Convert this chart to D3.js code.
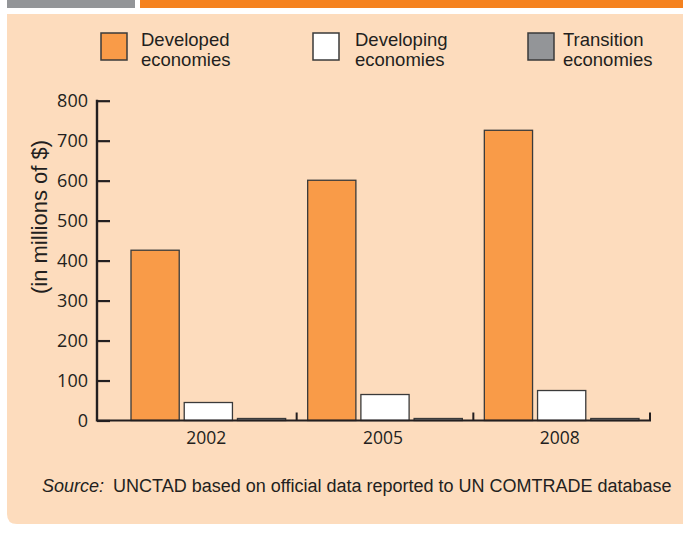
<!DOCTYPE html>
<html>
<head>
<meta charset="utf-8">
<script src="https://cdn.jsdelivr.net/npm/d3@7"></script>
<style>
  html, body { margin: 0; padding: 0; background: #ffffff; }
  svg { display: block; }
</style>
</head>
<body>
<script>
// ---- Data ----
const years = ["2002", "2005", "2008"];
const seriesNames = ["Developed economies", "Developing economies", "Transition economies"];
const developed = [426, 601, 726];
const developing = [45, 65, 75];
const transition = [5, 5, 5];
const yTicks = [0, 100, 200, 300, 400, 500, 600, 700, 800];
const legendLines = [["Developed", "economies"], ["Developing", "economies"], ["Transition", "economies"]];
const yTitle = "(in millions of $)";
const sourceLabel = "Source:";
const sourceText = "UNCTAD based on official data reported to UN COMTRADE database";

const seriesValues = [developed, developing, transition];
const colors = ["#F99B48", "#FFFFFF", "#939598"];

const W = 683, H = 533;
const svg = d3.select("body").append("svg").attr("width", W).attr("height", H);

// header strips
svg.append("rect").attr("x", 7).attr("y", 0).attr("width", 128).attr("height", 8).attr("fill", "#939598");
svg.append("rect").attr("x", 140).attr("y", 0).attr("width", 543).attr("height", 8).attr("fill", "#F5821F");

// panel with rounded bottom-left corner
const px0 = 7, py0 = 14, px1 = 683, py1 = 524, r = 10;
svg.append("path")
  .attr("d", `M${px0},${py0} H${px1} V${py1} H${px0 + r} Q${px0},${py1} ${px0},${py1 - r} Z`)
  .attr("fill", "#FDDCBD");

const ink = "#231F20";

// scales
const y = d3.scaleLinear().domain([0, 800]).range([420.5, 100.7]);
const x = d3.scaleBand().domain(years).range([120, 650]).paddingInner(0).paddingOuter(0);
const xs = d3.scaleBand().domain(d3.range(seriesNames.length))
  .range([11, x.bandwidth() - 11]).paddingInner(0.094).paddingOuter(0);

// bars
const g = svg.append("g");
years.forEach((yr, i) => {
  seriesValues.forEach((vals, s) => {
    g.append("rect")
      .attr("x", x(yr) + xs(s))
      .attr("y", y(vals[i]))
      .attr("width", xs.bandwidth())
      .attr("height", y(0) - y(vals[i]))
      .attr("fill", colors[s])
      .attr("stroke", "#3a3a3a")
      .attr("stroke-width", 1.3);
  });
});

// y axis
const axisX = 97;
const yAxis = d3.axisRight(y).tickValues(yTicks).tickSize(13).tickFormat("");
const ya = svg.append("g").attr("transform", `translate(${axisX},0)`).call(yAxis);
ya.select(".domain").remove();
ya.selectAll(".tick line").attr("stroke", ink).attr("stroke-width", 2.2);
svg.append("line").attr("x1", axisX).attr("x2", axisX)
  .attr("y1", y(800) - 1).attr("y2", y(0) + 1)
  .attr("stroke", ink).attr("stroke-width", 2.4);
// y tick labels
svg.append("g").selectAll("text").data(yTicks).join("text")
  .attr("x", 88).attr("y", d => y(d))
  .attr("dy", "0.36em")
  .attr("text-anchor", "end")
  .attr("font-family", "'Open Sans', sans-serif")
  .attr("font-size", 18)
  .attr("fill", ink)
  .text(d => d);

// x axis
svg.append("line").attr("x1", axisX).attr("x2", 650 + 1)
  .attr("y1", y(0)).attr("y2", y(0))
  .attr("stroke", ink).attr("stroke-width", 2);
const xAxis = d3.axisTop(x).tickSizeInner(0).tickSizeOuter(0).tickFormat("");
const xa = svg.append("g").attr("transform", `translate(0,${y(0)})`).call(xAxis);
xa.select(".domain").remove();
xa.selectAll(".tick line").remove();
// boundary ticks at end of each band
svg.append("g").selectAll("line").data(years).join("line")
  .attr("x1", d => x(d) + x.bandwidth()).attr("x2", d => x(d) + x.bandwidth())
  .attr("y1", y(0) - 8).attr("y2", y(0))
  .attr("stroke", ink).attr("stroke-width", 2);
// x labels
svg.append("g").selectAll("text").data(years).join("text")
  .attr("x", d => x(d) + x.bandwidth() / 2 - 2)
  .attr("y", 444)
  .attr("text-anchor", "middle")
  .attr("font-family", "'Open Sans', sans-serif")
  .attr("font-size", 17.5)
  .attr("fill", ink)
  .text(d => d);

// y title
svg.append("text")
  .attr("transform", "translate(47,217) rotate(-90)")
  .attr("text-anchor", "middle")
  .attr("font-family", "'Liberation Sans', Arial, sans-serif")
  .attr("font-size", 22)
  .attr("fill", ink)
  .text(yTitle);

// legend
const legX = [101, 313, 528];
const legTextX = [141, 355, 563];
seriesNames.forEach((name, s) => {
  svg.append("rect")
    .attr("x", legX[s]).attr("y", 33).attr("width", 26).attr("height", 27)
    .attr("fill", colors[s]).attr("stroke", "#3a3a3a").attr("stroke-width", 1.5);
  const t = svg.append("text")
    .attr("font-family", "'Liberation Sans', Arial, sans-serif")
    .attr("font-size", 18.5)
    .attr("fill", ink);
  legendLines[s].forEach((ln, k) => {
    t.append("tspan").attr("x", legTextX[s]).attr("y", 46 + k * 20).text(ln);
  });
});

// source
const src = svg.append("text")
  .attr("x", 42).attr("y", 492)
  .attr("font-family", "'Liberation Sans', Arial, sans-serif")
  .attr("font-size", 18)
  .attr("fill", ink);
src.append("tspan").attr("font-style", "italic").text(sourceLabel);
src.append("tspan").attr("dx", 9).text(sourceText);
</script>
</body>
</html>
